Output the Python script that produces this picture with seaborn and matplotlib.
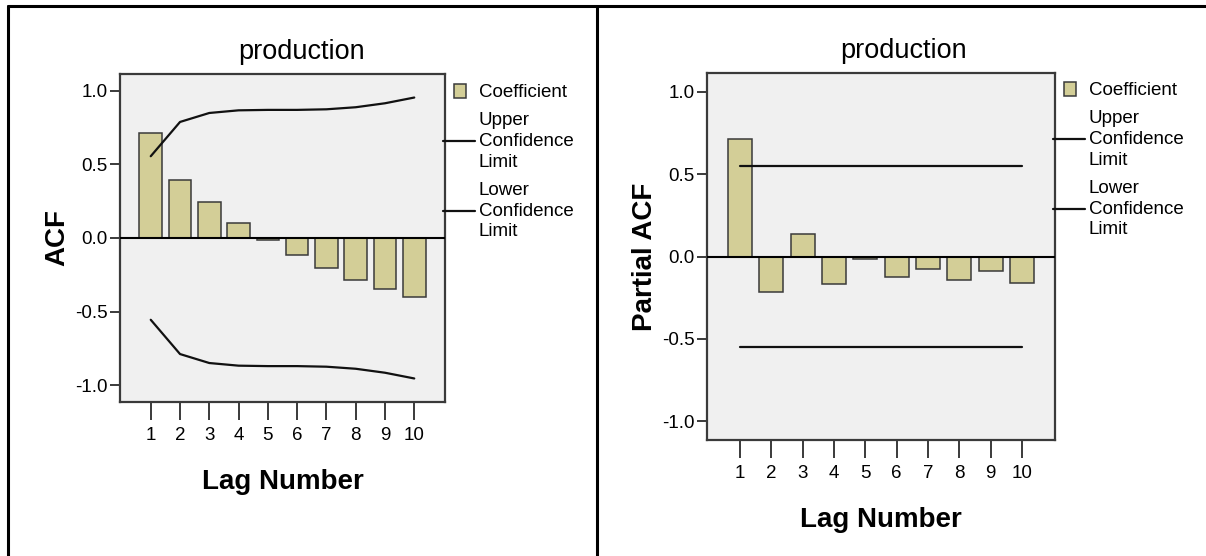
import matplotlib
matplotlib.use("Agg")
import matplotlib.pyplot as plt
import seaborn as sns
from matplotlib.patches import Patch, Rectangle
from matplotlib.lines import Line2D
from matplotlib.legend_handler import HandlerPatch

# values
lags = [1, 2, 3, 4, 5, 6, 7, 8, 9, 10]
acf_coef = [0.712, 0.392, 0.245, 0.104, -0.016, -0.113, -0.202, -0.286, -0.345, -0.401]
acf_upper = [0.556, 0.789, 0.850, 0.868, 0.871, 0.871, 0.875, 0.889, 0.916, 0.955]
acf_lower = [-0.556, -0.789, -0.850, -0.868, -0.871, -0.871, -0.875, -0.889, -0.916, -0.955]
pacf_coef = [0.712, -0.214, 0.135, -0.165, -0.014, -0.127, -0.077, -0.145, -0.089, -0.163]
pacf_upper = [0.552, 0.552, 0.552, 0.552, 0.552, 0.552, 0.552, 0.552, 0.552, 0.552]
pacf_lower = [-0.552, -0.552, -0.552, -0.552, -0.552, -0.552, -0.552, -0.552, -0.552, -0.552]

y_ticks = [-1.0, -0.5, 0.0, 0.5, 1.0]
panel_title = "production"
x_label = "Lag Number"
y_labels = ["ACF", "Partial ACF"]
legend_labels = ["Coefficient", "Upper\nConfidence\nLimit", "Lower\nConfidence\nLimit"]

BAR_COLOR = "#D3CE97"
PANEL_BG = "#F0F0F0"
EDGE = "#3a3a3a"

sns.set_style("ticks")
plt.rcParams["font.family"] = ["Liberation Sans", "DejaVu Sans"]
plt.rcParams["axes.unicode_minus"] = False
plt.rcParams["text.color"] = "black"
plt.rcParams["axes.labelcolor"] = "black"
plt.rcParams["xtick.color"] = "black"
plt.rcParams["ytick.color"] = "black"

W, H = 1206, 556
fig = plt.figure(figsize=(W / 100, H / 100), dpi=100)
fig.patch.set_facecolor("white")


def px_box(x0, y0, x1, y1):
    """axes rectangle from pixel corners (top-left origin)"""
    return [x0 / W, 1 - y1 / H, (x1 - x0) / W, (y1 - y0) / H]


def small_square(legend, orig_handle, xdescent, ydescent, width, height, fontsize):
    w, h = 8.6, 10.0
    return Rectangle((-xdescent + 7.9, -ydescent + (height - h) / 2), w, h)


def draw_panel(ax, coef, upper, lower, ylabel, title_x, leg_anchor):
    ax.set_facecolor(PANEL_BG)
    sns.barplot(x=lags, y=coef, native_scale=True, width=0.77, color=BAR_COLOR,
                saturation=1, edgecolor=EDGE, linewidth=1.1, errorbar=None,
                ax=ax, zorder=2)
    ax.axhline(0, color="black", lw=1.5, zorder=3)
    sns.lineplot(x=lags, y=upper, color="#111111", lw=1.6, legend=False, ax=ax, zorder=4)
    sns.lineplot(x=lags, y=lower, color="#111111", lw=1.6, legend=False, ax=ax, zorder=4)

    ax.set_xlim(-0.05, 11.05)
    ax.set_ylim(-1.115, 1.115)
    ax.set_xticks(lags)
    ax.set_xticklabels([str(v) for v in lags])
    ax.set_yticks(y_ticks)
    ax.set_yticklabels([f"{v:.1f}" for v in y_ticks])
    ax.tick_params(axis="x", length=13, width=1.4, color=EDGE, labelsize=13.5, pad=5)
    ax.tick_params(axis="y", length=7, width=1.4, color=EDGE, labelsize=13.5, pad=2)
    for sp in ax.spines.values():
        sp.set_visible(True)
        sp.set_color(EDGE)
        sp.set_linewidth(1.6)

    ax.set_xlabel(x_label, fontsize=20, fontweight="bold", labelpad=18)
    ax.set_ylabel(ylabel, fontsize=20, fontweight="bold", labelpad=3)
    ax.set_title(panel_title, fontsize=19.5, x=title_x, pad=11)

    handles = [Patch(facecolor=BAR_COLOR, edgecolor=EDGE, linewidth=1.1),
               Line2D([], [], color="#111111", lw=1.6),
               Line2D([], [], color="#111111", lw=1.6)]
    leg = ax.legend(handles, legend_labels, loc="upper left", frameon=False,
                    bbox_to_anchor=(leg_anchor[0] / W, 1 - leg_anchor[1] / H),
                    bbox_transform=fig.transFigure, fontsize=13.5, handlelength=1.7,
                    handletextpad=0.2, labelspacing=0.58, borderpad=0, borderaxespad=0,
                    handler_map={Patch: HandlerPatch(patch_func=small_square)})
    for t in leg.get_texts():
        t.set_linespacing(1.3)


ax_acf = fig.add_axes(px_box(120, 74, 445, 402))
ax_pacf = fig.add_axes(px_box(707, 73, 1055, 440))

draw_panel(ax_acf, acf_coef, acf_upper, acf_lower, y_labels[0], 0.56, (443, 84))
draw_panel(ax_pacf, pacf_coef, pacf_upper, pacf_lower, y_labels[1], 0.566, (1053, 82))

# table frame around the two charts
frame = dict(color="black", lw=2.2, transform=fig.transFigure)
fig.add_artist(Line2D([7.5 / W, 1], [1 - 5.5 / H, 1 - 5.5 / H], **frame))
fig.add_artist(Line2D([7.5 / W, 7.5 / W], [0, 1 - 5.5 / H], **frame))
fig.add_artist(Line2D([596.5 / W, 596.5 / W], [0, 1 - 5.5 / H], **frame))

fig.savefig("out.png", dpi=100)
